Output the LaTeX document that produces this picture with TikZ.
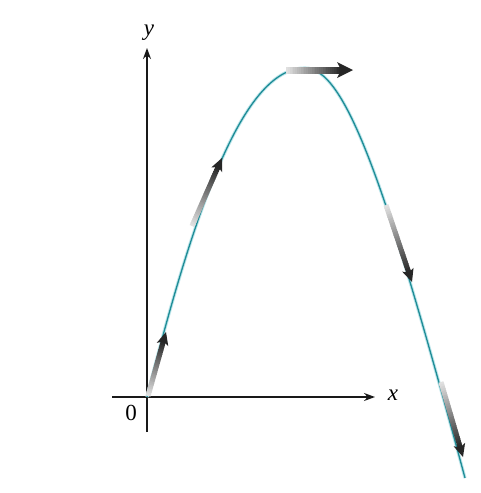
\documentclass[tikz,border=0pt]{standalone}
\usepackage{fontspec}
\setmainfont{Liberation Serif}
\usetikzlibrary{arrows.meta,calc}
\definecolor{curveteal}{RGB}{30,140,150}
\definecolor{curvehalo}{RGB}{190,230,235}
\newcommand{\gradarrow}[5]{%
  \coordinate (ga-t) at #1;
  \coordinate (ga-h) at #2;
  \coordinate (ga-b) at ($(ga-h)!#4!(ga-t)$);
  \coordinate (ga-n) at ($(ga-h)!0.75*#4!(ga-t)$);
  \foreach \i in {0,...,29}{%
    \pgfmathtruncatemacro\c{12+2.5*\i}%
    \draw[line width=#3, black!\c] ($(ga-t)!{\i/30}!(ga-n)$) -- ($(ga-t)!{(\i+1.4)/30}!(ga-n)$);
  }
  \fill[black!85] (ga-h) -- ($(ga-b)!#5!90:(ga-h)$) -- (ga-n) -- ($(ga-b)!#5!-90:(ga-h)$) -- cycle;
}
\tikzset{
  axis/.style={line width=1.4pt, black!90, -{Stealth[length=11pt,width=8pt]}},
  lbl/.style={font=\fontsize{23}{27}\selectfont, inner sep=0pt}
}
\begin{document}
\begin{tikzpicture}[x=1pt,y=-1pt]
\useasboundingbox (0,0) rectangle (480,493);
\fill[white] (0,0) rectangle (480,493);
% axes
\coordinate (O) at (147,397);
\coordinate (ybot) at (147,432);
\coordinate (ytop) at (147,48);
\coordinate (xleft) at (112,397);
\coordinate (xright) at (375,397);
\draw[axis] (ybot) -- (ytop);
\draw[axis] (xleft) -- (xright);
\node[lbl] (ylab) at (149,33) {\textit{y}};
\node[lbl] (xlab) at (393,395) {\textit{x}};
\node[lbl] (zero) at (131,413) {0};
% curve
\coordinate (V) at (305,68);
\coordinate (E) at (465,478);
\draw[curvehalo, line width=3.2pt] (O) .. controls (202,177) and (250,68) .. (V)
   .. controls (345,68) and (385,180) .. (E);
\draw[curveteal, line width=1.3pt] (O) .. controls (202,177) and (250,68) .. (V)
   .. controls (345,68) and (385,180) .. (E);
% velocity arrows
\gradarrow{(148,396)}{(166,332)}{5pt}{13pt}{6pt}
\gradarrow{(192,226)}{(222,158)}{5pt}{13pt}{6pt}
\gradarrow{(286,70)}{(353,70)}{7pt}{16pt}{8pt}
\gradarrow{(386,205)}{(412,282)}{5pt}{13pt}{6pt}
\gradarrow{(441,382)}{(463,457)}{5pt}{13pt}{6pt}
\end{tikzpicture}
\end{document}
